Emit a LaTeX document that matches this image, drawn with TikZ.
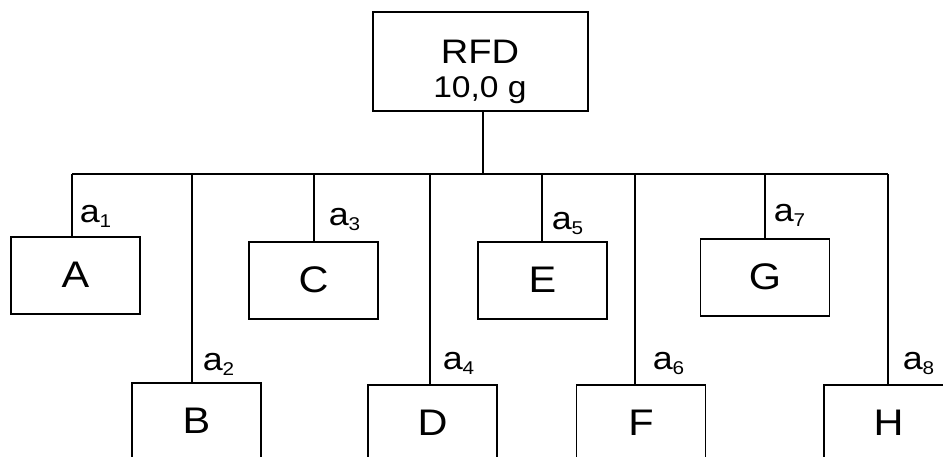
\documentclass[tikz,border=0pt]{standalone}
\usepackage{fontspec}
\setmainfont{Liberation Sans}[FakeStretch=1.12]
\usetikzlibrary{positioning}
\newcommand{\aidx}[1]{a\raisebox{-5pt}{\fontsize{18.5}{18.5}\selectfont #1}}

\begin{document}
\begin{tikzpicture}[x=1pt, y=-1pt, line width=1.5pt,
  box/.style={draw, anchor=north, minimum width=129pt, minimum height=77pt,
    inner sep=0pt, font=\fontsize{37}{37}\selectfont},
  lbl/.style={anchor=south west, inner sep=0pt, font=\fontsize{32}{32}\selectfont}]

\useasboundingbox (0,0) rectangle (943,456);

% root
\node[draw, minimum width=215pt, minimum height=99pt] (rfd) at (480.5,61.5) {};
\node[align=center, inner sep=0pt, font=\fontsize{34}{34}\selectfont] (rfdtext) at (480,72)
  {RFD\\{\fontsize{30}{34}\selectfont 10,0 g}};

% bus
\coordinate (top) at (483,174);
\coordinate (t1) at (72,174);
\coordinate (t2) at (192,174);
\coordinate (t3) at (314,174);
\coordinate (t4) at (430,174);
\coordinate (t5) at (542,174);
\coordinate (t6) at (635,174);
\coordinate (t7) at (765,174);
\coordinate (t8) at (888,174);

% upper row
\node[box] (a) at (75.5,236) {A};
\node[box] (c) at (313.5,241) {C};
\node[box] (e) at (542.5,241) {E};
\node[box] (g) at (765,238) {G};

% lower row
\node[box] (b) at (196.5,382) {B};
\node[box] (d) at (432.5,384) {D};
\node[box] (f) at (641,384) {F};
\node[box] (h) at (888.5,384) {H};

\draw (top) -- (top |- rfd.south);
\draw (t1) -- (t8);

\draw (t1) -- (t1 |- a.north) node[lbl, xshift=7pt, yshift=8pt] {\aidx{1}};
\draw (t2) -- (t2 |- b.north) node[lbl, xshift=10pt, yshift=6pt] {\aidx{2}};
\draw (t3) -- (t3 |- c.north) node[lbl, xshift=14pt, yshift=10pt] {\aidx{3}};
\draw (t4) -- (t4 |- d.north) node[lbl, xshift=12pt, yshift=9pt] {\aidx{4}};
\draw (t5) -- (t5 |- e.north) node[lbl, xshift=9pt, yshift=6pt] {\aidx{5}};
\draw (t6) -- (t6 |- f.north) node[lbl, xshift=17pt, yshift=9pt] {\aidx{6}};
\draw (t7) -- (t7 |- g.north) node[lbl, xshift=8pt, yshift=11pt] {\aidx{7}};
\draw (t8) -- (t8 |- h.north) node[lbl, xshift=14pt, yshift=9pt] {\aidx{8}};

\end{tikzpicture}
\end{document}
